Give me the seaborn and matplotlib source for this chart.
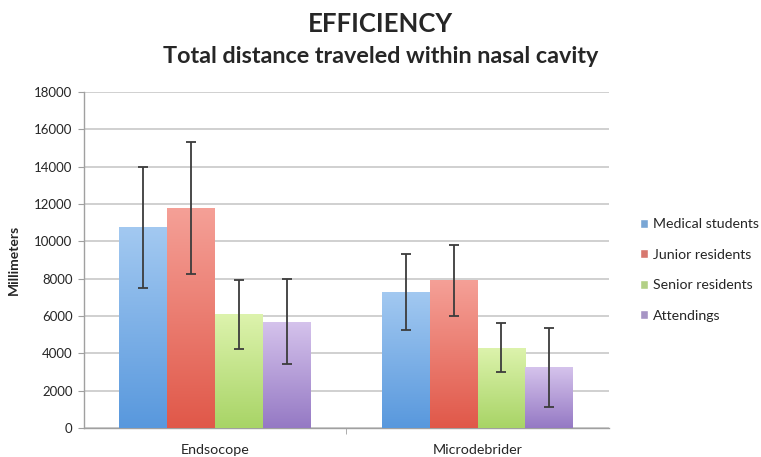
import numpy as np
import pandas as pd
import matplotlib
matplotlib.use("Agg")
import matplotlib.pyplot as plt
import seaborn as sns
from matplotlib.colors import LinearSegmentedColormap

devices = ["Endsocope", "Microdebrider"]
groups = ["Medical students", "Junior residents", "Senior residents", "Attendings"]
means_endoscope = [10750, 11780, 6080, 5700]
means_micro = [7300, 7920, 4300, 3250]
err_endoscope = [3250, 3550, 1860, 2280]
err_micro = [2030, 1900, 1300, 2100]

# gradient colours (top, bottom) per group
top_colors = ["#a3c9f1", "#f5a097", "#ddf3ad", "#d5c3ec"]
bottom_colors = ["#5898dd", "#e05849", "#a8d466", "#9579c4"]
legend_colors = ["#6aa6e4", "#e86a5e", "#b6dc7a", "#a48ccc"]

rows = []
for d, means, errs in [(devices[0], means_endoscope, err_endoscope),
                       (devices[1], means_micro, err_micro)]:
    for g, m, e in zip(groups, means, errs):
        rows.append({"device": d, "group": g, "mm": m, "err": e})
df = pd.DataFrame(rows)

sns.set_style("white")
plt.rcParams['font.family'] = ['Lato', 'DejaVu Sans']

fig = plt.figure(figsize=(7.61, 4.57), dpi=100)
ax = fig.add_axes([0.110, 0.0635, 0.690, 0.7355])

sns.barplot(data=df, x="device", y="mm", hue="group", order=devices,
            hue_order=groups, palette=legend_colors, errorbar=None,
            width=0.73, ax=ax, zorder=3)

ax.set_ylim(0, 18000)
ax.set_yticks(range(0, 18001, 2000))
ax.yaxis.grid(True, color="#c8c8c8", linewidth=1.2, zorder=0)
ax.set_axisbelow(True)

# gradient fill + error bars for each hue group
bar_conts = list(ax.containers)
for i, cont in enumerate(bar_conts):
    cmap = LinearSegmentedColormap.from_list("g", [bottom_colors[i], top_colors[i]])
    grad = np.linspace(0, 1, 256).reshape(-1, 1)
    sub = df[df["group"] == groups[i]].set_index("device").loc[devices]
    xs = []
    for bar in cont:
        x0, w, h = bar.get_x(), bar.get_width(), bar.get_height()
        bar.set_facecolor("none")
        bar.set_edgecolor("none")
        im = ax.imshow(grad, cmap=cmap, origin="lower", aspect="auto",
                       extent=[x0, x0 + w, 0, h], zorder=3)
        im.set_clip_path(bar)
        xs.append(x0 + w / 2)
    ax.errorbar(xs, sub["mm"], yerr=sub["err"], fmt="none", ecolor="#3c3c3c",
                elinewidth=1.3, capsize=3.3, capthick=1.3, zorder=5)

ax.set_xlim(-0.5, 1.5)
ax.set_ylim(0, 18000)

for s in ["top", "right"]:
    ax.spines[s].set_visible(False)
for s in ["left", "bottom"]:
    ax.spines[s].set_color("#a0a0a0")
    ax.spines[s].set_linewidth(1.0)
ax.tick_params(axis="y", left=True, length=4, color="#a0a0a0", labelsize=9.5, pad=4)
ax.tick_params(axis="x", bottom=False, labelsize=10.3, pad=8)
ax.set_xticks([0.5], minor=True)
ax.tick_params(axis="x", which="minor", bottom=True, length=4, color="#a0a0a0")
ax.set_xlabel("")
ax.set_ylabel("Millimeters", fontsize=10, fontweight="bold", labelpad=10)

handles, labels = ax.get_legend_handles_labels()
ax.legend(handles, labels, loc="center left", bbox_to_anchor=(1.035, 0.47),
          frameon=False, fontsize=10.2, handlelength=0.6, handleheight=0.6,
          handletextpad=0.3, labelspacing=1.3)

fig.text(0.5, 0.930, "EFFICIENCY", ha="center", va="baseline",
         fontsize=18.5, fontweight="bold")
fig.text(0.5, 0.862, "Total distance traveled within nasal cavity", ha="center",
         va="baseline", fontsize=16.8, fontweight="bold")

fig.savefig("out.png", dpi=100)
